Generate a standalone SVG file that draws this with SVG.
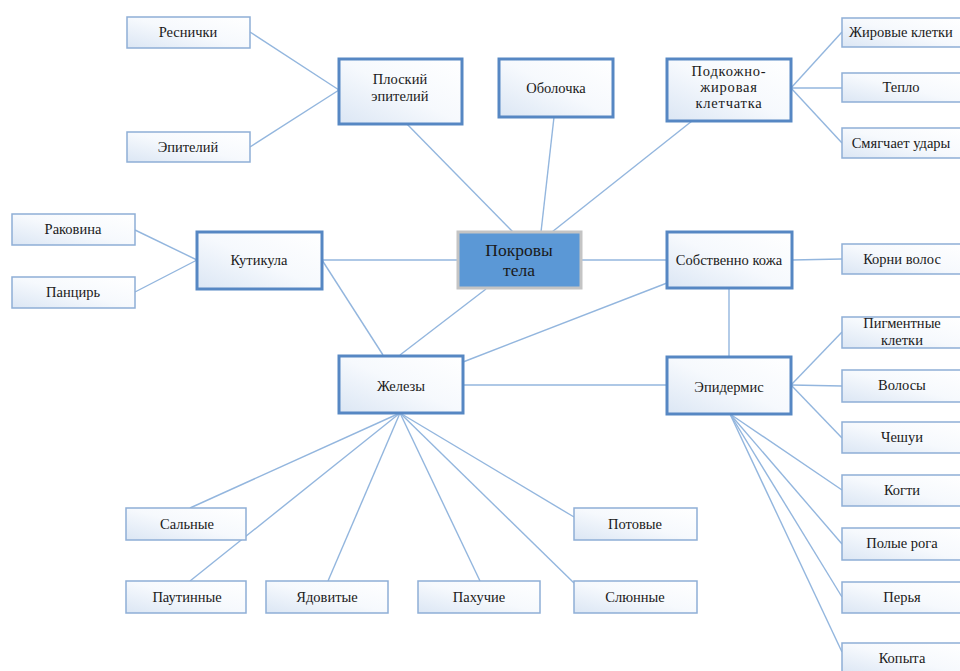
<svg xmlns="http://www.w3.org/2000/svg" width="960" height="671" viewBox="0 0 960 671" font-family="'Liberation Serif', 'DejaVu Serif', serif">
<defs>
<linearGradient id="g" x1="1" y1="0" x2="0" y2="1">
<stop offset="0" stop-color="#ffffff"/>
<stop offset="0.5" stop-color="#f6f9fd"/>
<stop offset="1" stop-color="#dbe6f4"/>
</linearGradient>
<style>
.main{fill:url(#g);stroke:#5687c3;stroke-width:3}
.leaf{fill:url(#g);stroke:#8eaed6;stroke-width:1.5}
.core{fill:#5b98d6;stroke:#c4c4c4;stroke-width:3}
text{font-family:'Liberation Serif','DejaVu Serif',serif;font-size:14.5px;fill:#1a1a1a;text-anchor:middle}
.big{font-size:17.5px}
#connectors line{stroke:#93b6de;stroke-width:1.4}
</style>
</defs>
<rect width="960" height="671" fill="#ffffff"/>
<g id="connectors">
<line x1="250" y1="32" x2="339" y2="90"/>
<line x1="250" y1="147" x2="339" y2="90"/>
<line x1="403" y1="120" x2="513" y2="232"/>
<line x1="554" y1="117" x2="541" y2="232"/>
<line x1="692" y1="121" x2="552" y2="232"/>
<line x1="791" y1="88" x2="842" y2="32"/>
<line x1="791" y1="88" x2="842" y2="88"/>
<line x1="791" y1="88" x2="842" y2="143"/>
<line x1="322" y1="260" x2="458" y2="260"/>
<line x1="581" y1="260" x2="667" y2="260"/>
<line x1="792" y1="260" x2="842" y2="259"/>
<line x1="729" y1="288" x2="729" y2="357"/>
<line x1="667" y1="283" x2="463" y2="362"/>
<line x1="486" y1="289" x2="400" y2="355"/>
<line x1="322" y1="260" x2="383" y2="355"/>
<line x1="135" y1="230" x2="197" y2="260"/>
<line x1="135" y1="292" x2="197" y2="260"/>
<line x1="463" y1="385" x2="667" y2="385"/>
<line x1="400" y1="413" x2="190" y2="508"/>
<line x1="400" y1="413" x2="190" y2="581"/>
<line x1="400" y1="413" x2="328" y2="581"/>
<line x1="400" y1="413" x2="480" y2="581"/>
<line x1="400" y1="413" x2="574" y2="583"/>
<line x1="400" y1="413" x2="574" y2="517"/>
<line x1="791" y1="385" x2="842" y2="332"/>
<line x1="791" y1="385" x2="842" y2="386"/>
<line x1="791" y1="385" x2="842" y2="438"/>
<line x1="730" y1="414" x2="842" y2="490"/>
<line x1="730" y1="414" x2="842" y2="544"/>
<line x1="730" y1="414" x2="842" y2="597"/>
<line x1="730" y1="414" x2="842" y2="652"/>
</g>
<g id="pokrovy"><rect class="core" x="458" y="232" width="123" height="56"/><text class="big" x="519" y="256">Покровы</text><text class="big" x="519" y="276">тела</text></g>
<g id="ploskiy"><rect class="main" x="339" y="59" width="123" height="65"/><text x="400" y="84">Плоский</text><text x="400" y="101">эпителий</text></g>
<g id="obolochka"><rect class="main" x="499" y="59" width="114" height="58"/><text x="556" y="93">Оболочка</text></g>
<g id="podkozhno"><rect class="main" x="667" y="59" width="124" height="62"/><text x="729" y="76" letter-spacing="0.8">Подкожно-</text><text x="729" y="92" letter-spacing="0.8">жировая</text><text x="729" y="108" letter-spacing="0.8">клетчатка</text></g>
<g id="kutikula"><rect class="main" x="197" y="232" width="125" height="57"/><text x="259" y="265">Кутикула</text></g>
<g id="sobstvenno"><rect class="main" x="667" y="232" width="125" height="56"/><text x="729" y="265">Собственно кожа</text></g>
<g id="zhelezy"><rect class="main" x="339" y="356" width="124" height="57"/><text x="401" y="391">Железы</text></g>
<g id="epidermis"><rect class="main" x="667" y="357" width="124" height="57"/><text x="729" y="392">Эпидермис</text></g>
<g id="resnichki"><rect class="leaf" x="127" y="17" width="123" height="31"/><text x="188" y="37">Реснички</text></g>
<g id="epiteliy"><rect class="leaf" x="127" y="132" width="123" height="30"/><text x="188" y="152">Эпителий</text></g>
<g id="zhirovye"><rect class="leaf" x="842" y="18" width="121" height="29"/><text x="901" y="37">Жировые клетки</text></g>
<g id="teplo"><rect class="leaf" x="842" y="73" width="121" height="29"/><text x="901" y="92">Тепло</text></g>
<g id="smyagchaet"><rect class="leaf" x="842" y="128" width="121" height="30"/><text x="901" y="148">Смягчает удары</text></g>
<g id="rakovina"><rect class="leaf" x="12" y="214" width="123" height="31"/><text x="73" y="234">Раковина</text></g>
<g id="pancir"><rect class="leaf" x="12" y="277" width="123" height="31"/><text x="73" y="297">Панцирь</text></g>
<g id="korni"><rect class="leaf" x="842" y="244" width="121" height="30"/><text x="902" y="264">Корни волос</text></g>
<g id="pigment"><rect class="leaf" x="842" y="317" width="121" height="31"/><text x="902" y="328">Пигментные</text><text x="902" y="345">клетки</text></g>
<g id="volosy"><rect class="leaf" x="842" y="370" width="121" height="32"/><text x="902" y="390">Волосы</text></g>
<g id="cheshui"><rect class="leaf" x="842" y="422" width="121" height="31"/><text x="902" y="442">Чешуи</text></g>
<g id="kogti"><rect class="leaf" x="842" y="475" width="121" height="31"/><text x="902" y="495">Когти</text></g>
<g id="polye"><rect class="leaf" x="842" y="528" width="121" height="32"/><text x="902" y="548">Полые рога</text></g>
<g id="perya"><rect class="leaf" x="842" y="582" width="121" height="31"/><text x="902" y="602">Перья</text></g>
<g id="kopyta"><rect class="leaf" x="842" y="643" width="121" height="31"/><text x="902" y="663">Копыта</text></g>
<g id="salnye"><rect class="leaf" x="126" y="508" width="120" height="32"/><text x="187" y="529">Сальные</text></g>
<g id="pautinnye"><rect class="leaf" x="126" y="581" width="120" height="32"/><text x="187" y="602">Паутинные</text></g>
<g id="yadovitye"><rect class="leaf" x="266" y="581" width="122" height="32"/><text x="327" y="602">Ядовитые</text></g>
<g id="pakhuchie"><rect class="leaf" x="418" y="581" width="122" height="32"/><text x="479" y="602">Пахучие</text></g>
<g id="potovye"><rect class="leaf" x="574" y="508" width="123" height="32"/><text x="635" y="529">Потовые</text></g>
<g id="slyunnye"><rect class="leaf" x="574" y="581" width="123" height="32"/><text x="635" y="602">Слюнные</text></g>
</svg>
